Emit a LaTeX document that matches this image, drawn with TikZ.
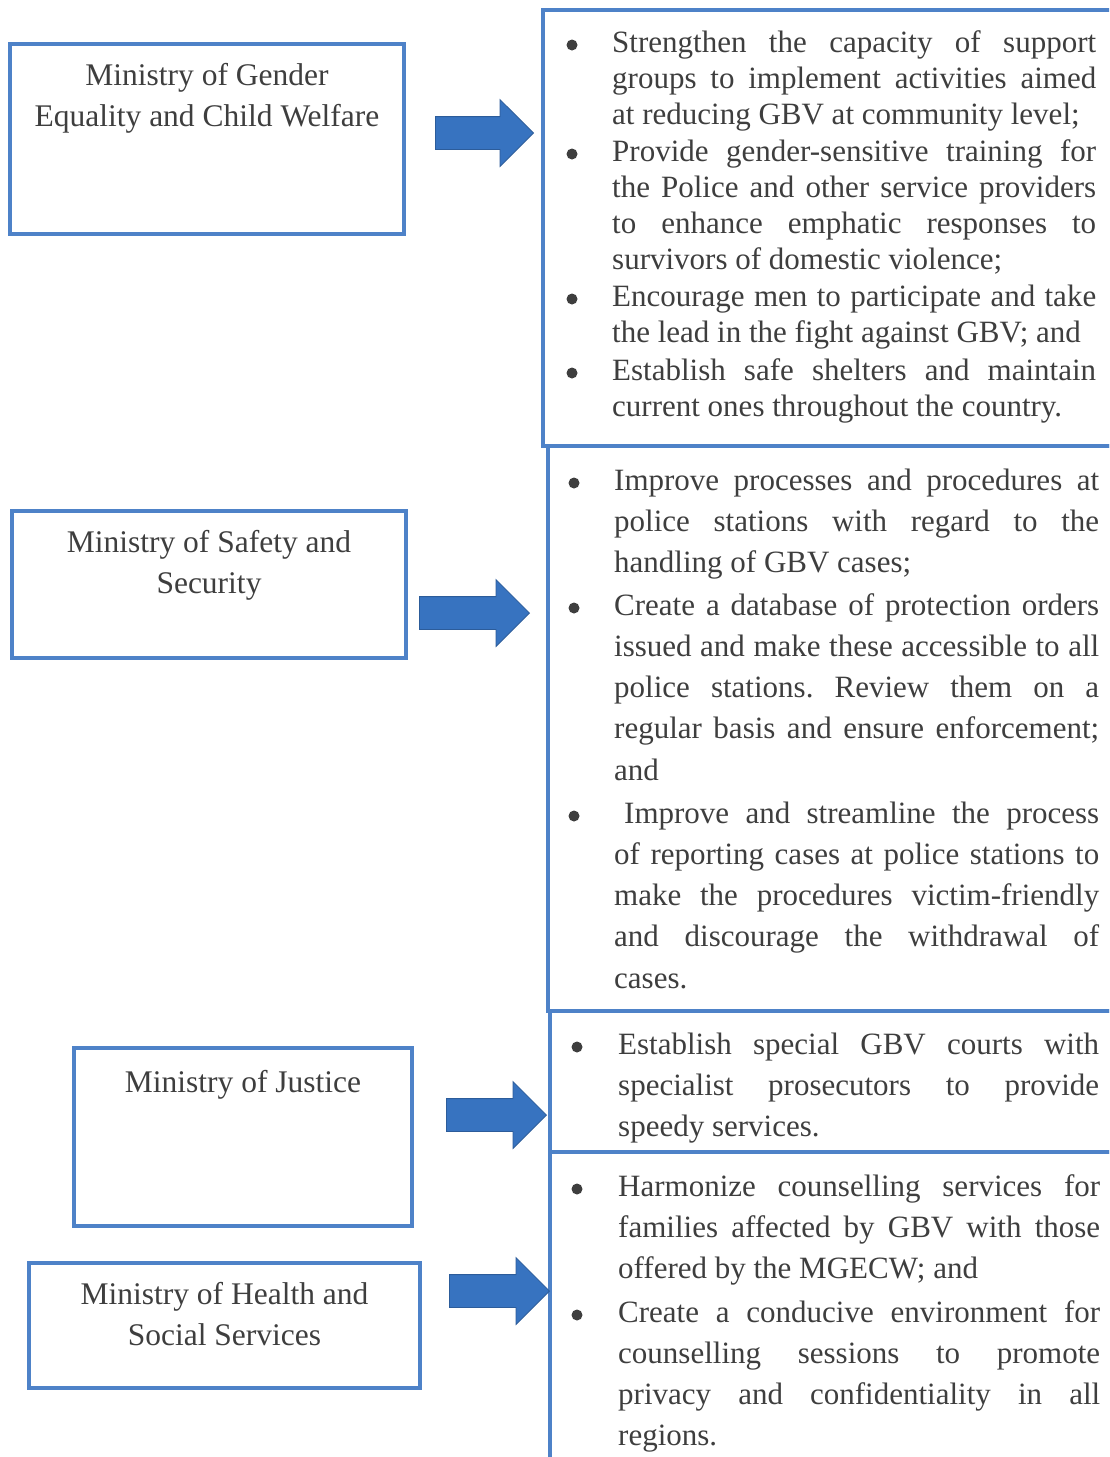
\documentclass[tikz,border=0pt]{standalone}
\usepackage{fontspec}
\setmainfont{Liberation Serif}
\usetikzlibrary{shapes.arrows}
\definecolor{boxblue}{RGB}{78,130,200}
\definecolor{arrowblue}{RGB}{55,115,192}
\definecolor{inkgray}{RGB}{62,62,62}

\begin{document}
\begin{tikzpicture}[x=1pt,y=-1pt,
  ministry/.style={rectangle,draw=boxblue,line width=4pt,inner sep=0pt},
  ministry text/.style={anchor=north,align=center,inner sep=0pt,text=inkgray,font=\fontsize{31.5}{41}\selectfont},
  task box/.style={rectangle,draw=boxblue,line width=4pt,inner sep=0pt},
  task/.style={anchor=base west,inner sep=0pt,text=inkgray,align=justify,text width=484pt,
    font=\fontsize{31}{41.3}\selectfont,
    execute at begin node={\tolerance=10000\hyphenpenalty=10000\frenchspacing}},
  tight task/.style={task,font=\fontsize{31}{36}\selectfont},
  dot/.style={circle,fill=inkgray,inner sep=0pt,minimum size=11pt},
  push/.style={single arrow,anchor=tip,fill=arrowblue,draw=arrowblue!80!black,line width=0.8pt,
    inner xsep=0pt,inner ysep=16pt,single arrow head extend=17pt,single arrow tip angle=90}]

  \useasboundingbox (0,0) rectangle (1109,1457);
  \clip (0,0) rectangle (1109,1457);

  % ministries
  \node[ministry,minimum width=394pt,minimum height=190pt] (gender) at (207,139) {};
  \node[ministry,minimum width=394pt,minimum height=147pt] (safety) at (209,584.5) {};
  \node[ministry,minimum width=338pt,minimum height=178pt] (justice) at (243,1137) {};
  \node[ministry,minimum width=391pt,minimum height=125pt] (health) at (224.5,1325.5) {};

  \node[ministry text] (gendert) at ([yshift=-21pt]gender.north) {Ministry of Gender\\Equality and Child Welfare};
  \node[ministry text] (safetyt) at ([yshift=-21pt]safety.north) {Ministry of Safety and\\Security};
  \node[ministry text] (justicet) at ([yshift=-24pt]justice.north) {Ministry of Justice};
  \node[ministry text] (healtht) at ([yshift=-21pt]health.north) {Ministry of Health and\\Social Services};

  % tasks
  \node[dot] (a1d) at (572,45) {};
  \node[tight task] (a1) at (612,52) {Strengthen the capacity of support\linebreak
    groups to implement activities aimed\linebreak at reducing GBV at community level;};
  \node[dot] (a2d) at (572,154) {};
  \node[tight task] (a2) at (612,161) {Provide gender-sensitive training for\linebreak
    the Police and other service providers\linebreak to enhance emphatic responses to\linebreak
    survivors of domestic violence;};
  \node[dot] (a3d) at (572,299) {};
  \node[tight task] (a3) at (612,306) {Encourage men to participate and take\linebreak
    the lead in the fight against GBV; and};
  \node[dot] (a4d) at (572,373) {};
  \node[tight task] (a4) at (612,380) {Establish safe shelters and maintain\linebreak
    current ones throughout the country.};

  \node[dot] (b1d) at (574,483) {};
  \node[task,text width=485pt] (b1) at (614,490) {Improve processes and procedures at\linebreak
    police stations with regard to the\linebreak handling of GBV cases;};
  \node[dot] (b2d) at (574,608) {};
  \node[task,text width=485pt] (b2) at (614,615) {Create a database of protection orders\linebreak
    issued and make these accessible to all\linebreak police stations. Review them on a\linebreak
    regular basis and ensure enforcement;\linebreak and};
  \node[dot] (b3d) at (574,816) {};
  \node[task,text width=485pt] (b3) at (614,823) {\hspace*{10pt}Improve and streamline the process\linebreak
    of reporting cases at police stations to\linebreak make the procedures victim-friendly\linebreak
    and discourage the withdrawal of\linebreak cases.};

  \node[dot] (c1d) at (577,1047) {};
  \node[task,text width=481pt] (c1) at (618,1054) {Establish special GBV courts with\linebreak
    specialist prosecutors to provide\linebreak speedy services.};

  \node[dot] (d1d) at (577,1189) {};
  \node[task,text width=482pt] (d1) at (618,1196) {Harmonize counselling services for\linebreak
    families affected by GBV with those\linebreak offered by the MGECW; and};
  \node[dot] (d2d) at (577,1315) {};
  \node[task,text width=482pt] (d2) at (618,1322) {Create a conducive environment for\linebreak
    counselling sessions to promote\linebreak privacy and confidentiality in all\linebreak regions.};

  \node[task box,minimum width=572pt,minimum height=436pt] (tasksA) at (829,228) {};
  \node[task box,minimum width=567pt,minimum height=565pt] (tasksB) at (831.5,728.5) {};
  \node[task box,minimum width=565pt,minimum height=141pt] (tasksC) at (832.5,1081.5) {};
  \node[task box,minimum width=565pt,minimum height=318pt] (tasksD) at (832.5,1311) {};

  % arrows
  \node[push,minimum height=98pt] (p1) at (534,133) {};
  \node[push,minimum height=110pt] (p2) at (530,613) {};
  \node[push,minimum height=100pt] (p3) at (547,1115) {};
  \node[push,minimum height=100pt] (p4) at (550,1291) {};
\end{tikzpicture}
\end{document}
